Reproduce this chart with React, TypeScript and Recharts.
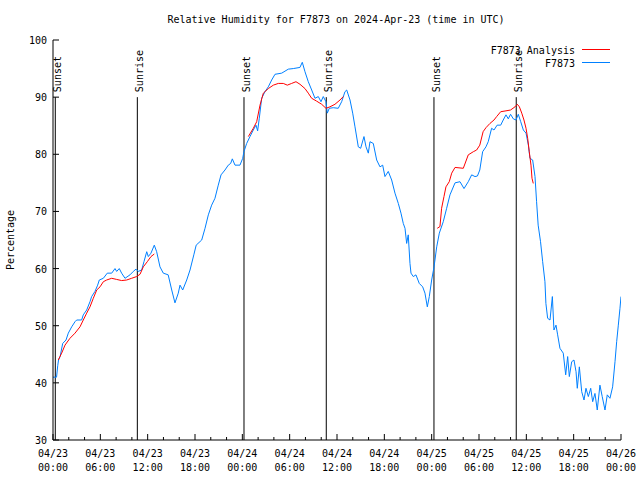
import React from 'react';
import { LineChart, Line, XAxis, YAxis, ReferenceLine } from 'recharts';

// hours since 04/23 00:00 UTC, relative humidity (%)
const observed: [number, number][] = [
  [0.0, 41.0], [0.45, 41.0], [0.6, 43.0], [0.7, 44.0], [0.9, 44.6], [1.23, 46.9], [1.65, 47.5], [1.94, 48.7],
  [2.37, 49.8], [2.79, 50.7], [3.0, 51.0], [3.63, 51.0], [3.84, 51.9], [4.27, 52.75], [4.69, 54.2], [4.9, 55.1],
  [5.32, 56.0], [5.66, 57.1], [5.87, 58.0], [6.38, 58.3], [6.88, 59.2], [7.44, 59.2], [7.86, 60.0], [8.07, 59.5],
  [8.4, 60.0], [8.7, 59.2], [9.13, 58.3], [9.76, 58.9], [10.18, 59.5], [10.52, 59.9], [10.8, 59.5], [11.24, 59.75],
  [11.53, 61.2], [11.88, 62.95], [12.08, 62.1], [12.42, 62.7], [12.84, 64.1], [13.14, 62.95], [13.56, 60.3],
  [13.98, 59.2], [14.6, 58.9], [15.05, 56.25], [15.46, 54.0], [15.88, 55.7], [16.1, 57.1], [16.44, 56.25],
  [16.95, 58.0], [17.37, 59.75], [17.85, 62.4], [18.15, 64.1], [18.85, 65.0], [19.27, 67.05], [19.69, 69.4],
  [20.11, 71.1], [20.53, 72.3], [20.95, 74.6], [21.3, 76.4], [21.8, 77.25], [22.22, 78.1], [22.52, 78.4],
  [22.73, 79.2], [23.07, 78.1], [23.7, 78.1], [24.05, 79.3], [24.2, 80.45], [24.55, 81.9], [24.97, 83.1],
  [25.39, 84.25], [25.73, 85.1], [25.94, 84.1], [26.15, 86.3], [26.45, 89.8], [26.87, 90.95], [27.29, 91.8],
  [27.72, 93.0], [28.14, 94.0], [28.99, 94.2], [29.83, 94.9], [30.46, 95.0], [31.3, 95.2], [31.6, 96.1],
  [31.94, 94.45], [32.36, 92.7], [32.79, 91.25], [33.21, 89.8], [33.63, 90.1], [33.97, 89.2], [34.26, 90.1],
  [34.6, 89.2], [34.77, 87.2], [35.02, 88.05], [35.53, 88.15], [36.16, 88.05], [36.59, 89.2], [37.01, 90.95],
  [37.23, 91.25], [37.65, 89.5], [37.99, 87.2], [38.28, 84.8], [38.7, 81.3], [39.0, 81.05], [39.42, 83.1],
  [39.68, 81.3], [39.97, 80.2], [40.18, 82.2], [40.6, 81.9], [41.03, 79.0], [41.45, 77.8], [41.79, 78.1],
  [42.08, 76.1], [42.5, 77.0], [42.93, 75.5], [43.35, 73.2], [43.77, 71.4], [44.11, 69.7], [44.4, 67.9],
  [44.62, 67.05], [44.83, 64.4], [45.03, 65.9], [45.25, 60.9], [45.38, 59.2], [45.67, 58.6], [46.01, 58.9],
  [46.43, 57.4], [46.86, 56.8], [47.15, 55.7], [47.45, 53.3], [47.7, 55.1], [48.0, 58.0], [48.3, 60.3],
  [48.64, 63.8], [48.97, 66.2], [49.47, 68.2], [49.9, 70.55], [50.32, 72.9], [50.96, 75.0], [51.59, 75.2],
  [52.1, 74.0], [52.64, 75.2], [53.07, 76.4], [53.49, 76.1], [53.8, 76.2], [54.1, 77.25], [54.46, 80.45],
  [54.88, 81.3], [55.17, 82.2], [55.6, 84.55], [55.9, 84.25], [56.3, 85.1], [56.75, 85.1], [57.07, 86.0],
  [57.42, 86.9], [57.71, 86.2], [58.0, 87.0], [58.35, 86.2], [58.69, 86.0], [58.98, 87.0], [59.29, 85.7],
  [59.62, 84.25], [59.96, 83.7], [60.26, 81.6], [60.46, 79.3], [60.8, 79.0], [61.1, 76.1], [61.3, 71.7],
  [61.5, 67.6], [61.8, 64.7], [62.07, 61.2], [62.36, 57.7], [62.48, 53.9], [62.7, 51.3], [63.0, 51.0],
  [63.3, 55.1], [63.5, 49.25], [63.76, 50.1], [63.97, 48.4], [64.26, 46.05], [64.68, 45.2], [64.99, 41.4],
  [65.24, 44.6], [65.45, 41.1], [65.75, 43.7], [66.04, 44.0], [66.3, 41.95], [66.46, 39.05], [66.72, 42.8],
  [67.02, 38.45], [67.31, 37.0], [67.56, 39.05], [67.86, 37.6], [68.16, 39.05], [68.41, 36.7], [68.7, 38.15],
  [68.99, 35.25], [69.33, 39.6], [69.62, 37.6], [69.97, 35.25], [70.26, 37.9], [70.6, 37.3], [70.94, 39.3],
  [71.24, 43.7], [71.45, 47.2], [71.66, 50.1], [71.87, 53.05], [72.0, 55.1],
];

const analysisNight1: [number, number][] = [
  [0.67, 44.0], [1.1, 45.2], [1.52, 46.6], [2.15, 47.8], [2.79, 48.7], [3.42, 49.8], [3.84, 51.0], [4.27, 52.2],
  [4.69, 53.3], [5.11, 54.8], [5.54, 56.25], [5.96, 56.8], [6.38, 57.7], [6.8, 58.0], [7.44, 58.3], [8.07, 58.1],
  [8.7, 57.9], [9.34, 58.0], [9.97, 58.3], [10.6, 58.6], [11.03, 59.0], [11.45, 60.3], [11.95, 61.2],
  [12.42, 62.1], [12.84, 62.55],
];

const analysisNight2: [number, number][] = [
  [24.76, 83.1], [25.39, 84.55], [25.82, 85.7], [26.24, 88.6], [26.66, 90.7], [27.29, 91.5], [27.93, 92.1],
  [28.56, 92.4], [29.19, 92.4], [29.7, 92.1], [30.25, 92.4], [30.8, 92.7], [31.31, 92.25], [31.94, 91.5],
  [32.36, 90.7], [32.79, 89.8], [33.42, 89.3], [34.06, 88.75], [34.6, 88.05], [35.1, 88.3], [35.74, 88.75],
  [36.38, 89.5], [36.8, 90.1],
];

const analysisNight3: [number, number][] = [
  [48.71, 67.05], [49.05, 67.35], [49.26, 70.55], [49.56, 72.6], [49.81, 74.3], [50.23, 75.2], [50.54, 76.7],
  [50.96, 77.7], [52.01, 77.55], [52.64, 79.9], [53.28, 80.45], [53.7, 80.75], [54.1, 81.6], [54.52, 83.95],
  [54.88, 84.65], [55.39, 85.4], [55.9, 86.0], [56.24, 86.6], [56.75, 87.45], [57.42, 87.6], [58.0, 87.75],
  [58.56, 88.3], [58.86, 88.75], [59.12, 88.3], [59.42, 87.2], [59.7, 86.0], [59.96, 84.55], [60.17, 82.8],
  [60.37, 80.45], [60.59, 78.1], [60.72, 75.8], [60.88, 74.9],
];

const sunHours = [0.29, 10.69, 24.21, 34.64, 48.29, 58.72];
const sunLabels = ['Sunset', 'Sunrise', 'Sunset', 'Sunrise', 'Sunset', 'Sunrise'];

const xTickHours = [0, 6, 12, 18, 24, 30, 36, 42, 48, 54, 60, 66, 72];
const xTickDates = ['04/23', '04/23', '04/23', '04/23', '04/24', '04/24', '04/24', '04/24', '04/25', '04/25', '04/25', '04/25', '04/26'];
const xTickTimes = ['00:00', '06:00', '12:00', '18:00', '00:00', '06:00', '12:00', '18:00', '00:00', '06:00', '12:00', '18:00', '00:00'];
const xMinorHours = [0, 2, 4, 6, 8, 10, 12, 14, 16, 18, 20, 22, 24, 26, 28, 30, 32, 34, 36, 38, 40, 42, 44, 46, 48, 50, 52, 54, 56, 58, 60, 62, 64, 66, 68, 70, 72];
const yTicks = [30, 40, 50, 60, 70, 80, 90, 100];

const TITLE = 'Relative Humidity for F7873 on 2024-Apr-23 (time in UTC)';
const Y_LABEL = 'Percentage';
const ANALYSIS_NAME = 'F7873 Analysis';
const OBS_NAME = 'F7873';

const FONT = '"DejaVu Sans Mono", "Liberation Mono", monospace';
const RED = '#ff0000';
const BLUE = '#0080ff';

const rows = (arr: [number, number][]) => arr.map(([h, v]) => ({ h, v }));

const BottomTick = (props: any) => {
  const { x, y, payload } = props;
  const idx = xTickHours.indexOf(payload.value);
  const major = idx >= 0;
  return (
    <g>
      <line x1={x} x2={x} y1={y} y2={y - (major ? 6 : 3)} stroke="#000" />
      {major && (
        <text x={x} y={y + 17} textAnchor="middle" fontFamily={FONT} fontSize={10} fill="#000">
          {xTickDates[idx]}
        </text>
      )}
      {major && (
        <text x={x} y={y + 31} textAnchor="middle" fontFamily={FONT} fontSize={10} fill="#000">
          {xTickTimes[idx]}
        </text>
      )}
    </g>
  );
};

const TopTick = (props: any) => {
  const { x, y, payload } = props;
  const major = xTickHours.indexOf(payload.value) >= 0;
  return <line x1={x} x2={x} y1={y} y2={y + (major ? 6 : 3)} stroke="#000" />;
};

const LeftTick = (props: any) => {
  const { x, y, payload } = props;
  return (
    <g>
      <line x1={x} x2={x + 6} y1={y} y2={y} stroke="#000" />
      <text x={x - 6} y={y + 4} textAnchor="end" fontFamily={FONT} fontSize={10} fill="#000">
        {payload.value}
      </text>
    </g>
  );
};

const RightTick = (props: any) => {
  const { x, y } = props;
  return <line x1={x} x2={x - 6} y1={y} y2={y} stroke="#000" />;
};

const SunLabel = (text: string) => (props: any) => {
  const vb = props.viewBox || {};
  const tx = vb.x + 6;
  const ty = vb.y - 5;
  return (
    <text x={tx} y={ty} transform={`rotate(-90, ${tx}, ${ty})`} textAnchor="start" fontFamily={FONT} fontSize={10} fill="#000">
      {text}
    </text>
  );
};

export default function App() {
  return (
    <div style={{ position: 'absolute', left: 0, top: 0, width: 640, height: 480, background: '#fff' }}>
      <LineChart width={640} height={480} margin={{ top: 40, right: 19, bottom: 0, left: 0 }}>
        <XAxis
          dataKey="h"
          type="number"
          domain={[0, 72]}
          ticks={xMinorHours}
          interval={0}
          allowDataOverflow
          height={40}
          tickLine={false}
          tickSize={0}
          tickMargin={0}
          tick={<BottomTick />}
          axisLine={{ stroke: '#000' }}
        />
        <XAxis
          xAxisId="top"
          orientation="top"
          dataKey="h"
          type="number"
          domain={[0, 72]}
          ticks={xMinorHours}
          interval={0}
          allowDataOverflow
          height={0}
          tickLine={false}
          tickSize={0}
          tickMargin={0}
          tick={<TopTick />}
          axisLine={{ stroke: '#000' }}
        />
        <YAxis
          type="number"
          domain={[30, 100]}
          ticks={yTicks}
          interval={0}
          allowDataOverflow
          width={53}
          tickLine={false}
          tickSize={0}
          tickMargin={0}
          tick={<LeftTick />}
          axisLine={{ stroke: '#000' }}
        />
        <YAxis
          yAxisId="right"
          orientation="right"
          type="number"
          domain={[30, 100]}
          ticks={yTicks}
          interval={0}
          allowDataOverflow
          width={0}
          tickLine={false}
          tickSize={0}
          tickMargin={0}
          tick={<RightTick />}
          axisLine={{ stroke: '#000' }}
        />
        {sunHours.map((h, i) => (
          <ReferenceLine
            key={`sun-${i}`}
            segment={[{ x: h, y: 30 }, { x: h, y: 90 }]}
            stroke="#000"
            strokeWidth={1}
            label={SunLabel(sunLabels[i])}
          />
        ))}
        <Line data={rows(observed)} dataKey="v" name={OBS_NAME} stroke={BLUE} strokeWidth={1} dot={false} activeDot={false} isAnimationActive={false} type="linear" />
        <Line data={rows(analysisNight1)} dataKey="v" name={ANALYSIS_NAME} stroke={RED} strokeWidth={1} dot={false} activeDot={false} isAnimationActive={false} type="linear" />
        <Line data={rows(analysisNight2)} dataKey="v" name={ANALYSIS_NAME} stroke={RED} strokeWidth={1} dot={false} activeDot={false} isAnimationActive={false} type="linear" />
        <Line data={rows(analysisNight3)} dataKey="v" name={ANALYSIS_NAME} stroke={RED} strokeWidth={1} dot={false} activeDot={false} isAnimationActive={false} type="linear" />
      </LineChart>
      <svg width={640} height={480} style={{ position: 'absolute', left: 0, top: 0, pointerEvents: 'none' }}>
        <text x={336} y={23} textAnchor="middle" fontFamily={FONT} fontSize={10} fill="#000">{TITLE}</text>
        <text x={14} y={240} transform="rotate(-90, 14, 240)" textAnchor="middle" fontFamily={FONT} fontSize={10} fill="#000">{Y_LABEL}</text>
        <text x={575} y={54} textAnchor="end" fontFamily={FONT} fontSize={10} fill="#000">{ANALYSIS_NAME}</text>
        <line x1={582} x2={610} y1={49.5} y2={49.5} stroke={RED} strokeWidth={1} />
        <text x={575} y={67} textAnchor="end" fontFamily={FONT} fontSize={10} fill="#000">{OBS_NAME}</text>
        <line x1={582} x2={610} y1={62.5} y2={62.5} stroke={BLUE} strokeWidth={1} />
      </svg>
    </div>
  );
}
